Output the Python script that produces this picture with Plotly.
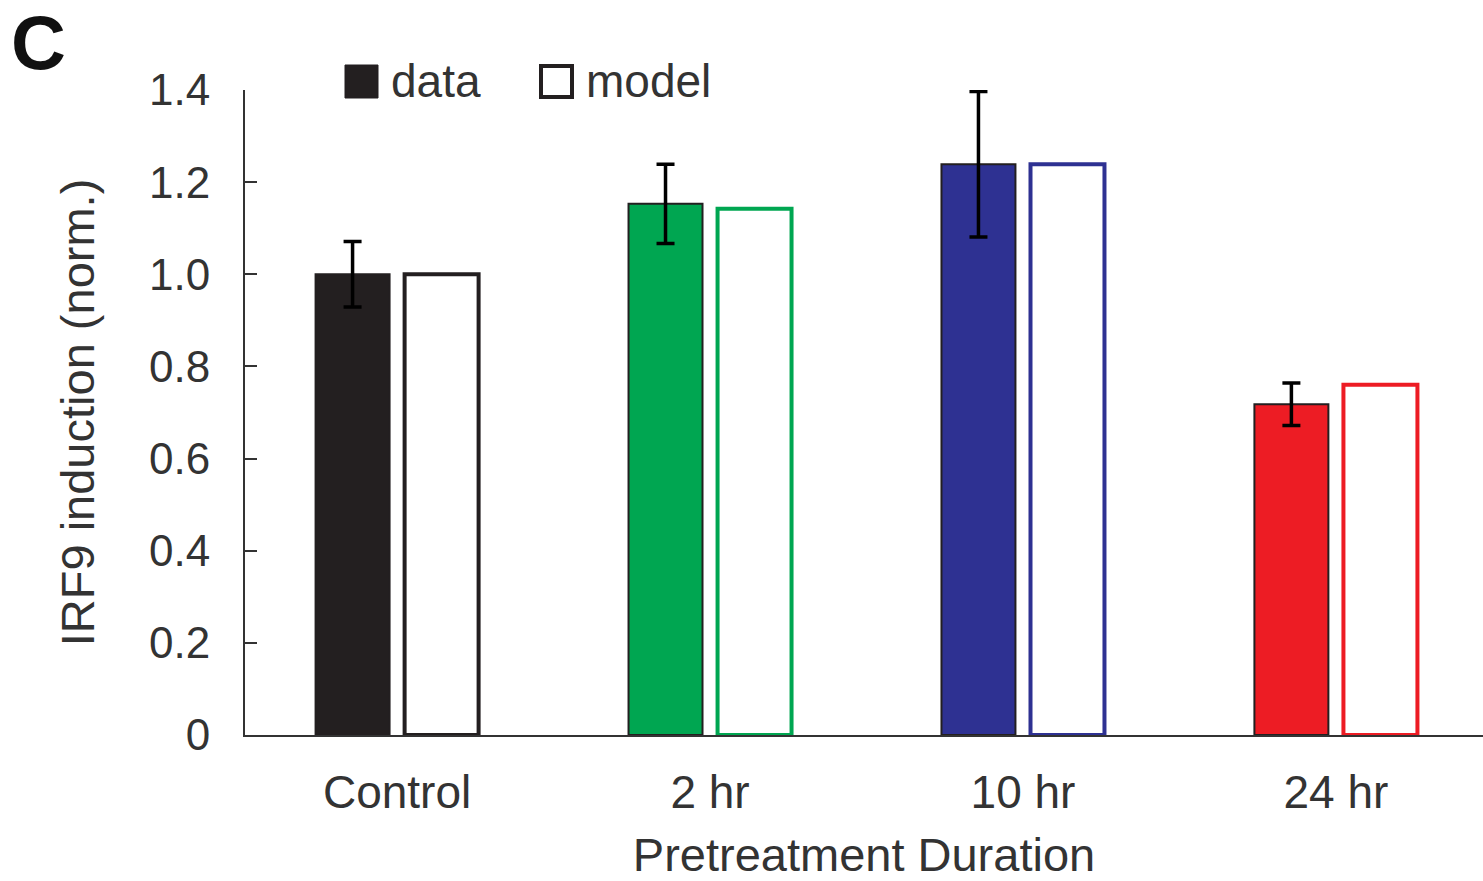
import plotly.graph_objects as go

categories = ["Control", "2 hr", "10 hr", "24 hr"]
data_values = [1.0, 1.153, 1.239, 0.718]
data_errors = [0.071, 0.086, 0.158, 0.046]
model_values = [1.0, 1.142, 1.239, 0.760]
colors = ["#231f20", "#00a651", "#2e3192", "#ed1c24"]
y_tickvals = [0, 0.2, 0.4, 0.6, 0.8, 1.0, 1.2, 1.4]
y_ticktext = ["0", "0.2", "0.4", "0.6", "0.8", "1.0", "1.2", "1.4"]

FONT = "Liberation Sans, Arial, Helvetica, sans-serif"
TXT = "#333333"

fig = go.Figure()
fig.add_trace(go.Bar(
    x=categories, y=data_values, name="data",
    marker=dict(color=colors, line=dict(color="#231f20", width=2)),
    error_y=dict(type="data", array=data_errors, visible=True,
                 color="black", thickness=3.5, width=9),
    showlegend=False,
))
fig.add_trace(go.Bar(
    x=categories, y=model_values, name="model",
    marker=dict(color="white", line=dict(color=colors, width=4)),
    showlegend=False,
))

# legend drawn manually (paper coords over plot area)
L, R, T, B = 245, 1483, 90, 735
W, H = R - L, B - T
def px(x):
    return (x - L) / W
def py(y):
    return (B - y) / H

fig.add_shape(type="rect", xref="paper", yref="paper",
              x0=px(345), x1=px(378), y0=py(98), y1=py(65),
              fillcolor="#231f20", line=dict(color="#231f20", width=1))
fig.add_shape(type="rect", xref="paper", yref="paper",
              x0=px(541), x1=px(572), y0=py(97), y1=py(66),
              fillcolor="white", line=dict(color="#231f20", width=4))
fig.add_annotation(xref="paper", yref="paper", x=px(389), y=py(81),
                   text="data", showarrow=False, xanchor="left", yanchor="middle",
                   font=dict(family=FONT, size=46, color=TXT))
fig.add_annotation(xref="paper", yref="paper", x=px(584), y=py(81),
                   text="model", showarrow=False, xanchor="left", yanchor="middle",
                   font=dict(family=FONT, size=46, color=TXT))
fig.add_annotation(xref="paper", yref="paper", x=px(9), y=py(43),
                   text="<b>C</b>", showarrow=False, xanchor="left", yanchor="middle",
                   font=dict(family=FONT, size=76, color="#111111"))

fig.update_layout(
    width=1483, height=881,
    margin=dict(l=L, r=1483 - R, t=T, b=881 - B),
    paper_bgcolor="white", plot_bgcolor="white",
    barmode="group", bargap=0.431, bargroupgap=0.169,
    font=dict(family=FONT, color=TXT),
)
fig.update_xaxes(
    range=[-0.486, 3.47], showline=True, linecolor="#333333", linewidth=2,
    ticks="", showgrid=False, zeroline=False,
    ticklabelstandoff=16,
    tickfont=dict(family=FONT, size=46, color=TXT),
    title=dict(text="Pretreatment Duration", standoff=26,
               font=dict(family=FONT, size=47, color=TXT)),
)
fig.update_yaxes(
    range=[0, 1.4], tickvals=y_tickvals, ticktext=y_ticktext,
    showline=True, linecolor="#333333", linewidth=2,
    ticks="inside", ticklen=12, tickwidth=2, tickcolor="#333333",
    ticklabelstandoff=24,
    showgrid=False, zeroline=False,
    tickfont=dict(family=FONT, size=44, color=TXT),
    title=dict(text="IRF9 induction (norm.)", standoff=40,
               font=dict(family=FONT, size=47, color=TXT)),
)

fig.write_html("out.html")
